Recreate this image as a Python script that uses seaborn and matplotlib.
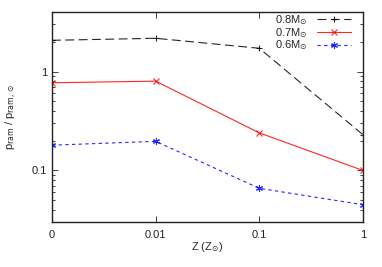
import numpy as np
import pandas as pd
import matplotlib
matplotlib.use("Agg")
import matplotlib.pyplot as plt
import seaborn as sns
from matplotlib.ticker import FixedLocator, NullFormatter

# ── Data ──────────────────────────────────────────────────────────────────
z_labels = ["0", "0.01", "0.1", "1"]
p_08 = [2.07, 2.17, 1.72, 0.23]
p_07 = [0.77, 0.80, 0.24, 0.10]
p_06 = [0.18, 0.197, 0.066, 0.045]

series = [
    (r"0.8M$_{\odot}$", p_08, "#000000", (0, (8, 4)), "+"),
    (r"0.7M$_{\odot}$", p_07, "#ff0000", "-", "x"),
    (r"0.6M$_{\odot}$", p_06, "#0000ff", (0, (3, 3)), (6, 2, 0)),
]

sns.set_style("ticks")
plt.rcParams["font.family"] = ["Liberation Sans", "DejaVu Sans"]
plt.rcParams["mathtext.fontset"] = "dejavusans"

fig, ax = plt.subplots(figsize=(3.82, 2.67), dpi=100)
fig.subplots_adjust(left=0.136, right=0.95, top=0.955, bottom=0.168)

x = np.arange(len(z_labels))
for label, vals, colour, ls, marker in series:
    df = pd.DataFrame({"x": x, "y": vals})
    sns.lineplot(data=df, x="x", y="y", ax=ax, color=colour, linewidth=0.8,
                 linestyle=ls, marker=marker, markersize=5,
                 markeredgewidth=0.8, markeredgecolor=colour,
                 label=label, alpha=0.85)

ax.set_yscale("log")
ax.set_ylim(0.03, 4)
ax.set_xlim(0, 3)
ax.set_xticks(x)
ax.set_xticklabels(z_labels)
ax.yaxis.set_major_locator(FixedLocator([0.1, 1]))
ax.set_yticklabels(["0.1", "1"])
minors = [0.03, 0.04, 0.05, 0.06, 0.07, 0.08, 0.09,
          0.2, 0.3, 0.4, 0.5, 0.6, 0.7, 0.8, 0.9, 2, 3, 4]
ax.yaxis.set_minor_locator(FixedLocator(minors))
ax.yaxis.set_minor_formatter(NullFormatter())

ax.tick_params(which="both", direction="in", top=True, right=True,
               labelsize=8, width=0.6, colors="#222222")
ax.tick_params(which="major", length=4)
ax.tick_params(which="minor", length=2.5)
ax.tick_params(axis="x", pad=6)
for s in ax.spines.values():
    s.set_linewidth(1.0)
    s.set_color("#222222")

ax.set_xlabel(r"Z (Z$_{\odot}$)", fontsize=8, labelpad=0)
ax.set_ylabel(r"p$_{\rm ram}$ / p$_{\rm ram,\odot}$", fontsize=8, labelpad=9)

ax.legend(loc="upper right", frameon=False, fontsize=8, markerfirst=False,
          handlelength=3.0, labelspacing=-0.1, borderaxespad=0.0,
          handletextpad=0.9, bbox_to_anchor=(0.975, 1.015))

fig.savefig("out.png", dpi=100)
